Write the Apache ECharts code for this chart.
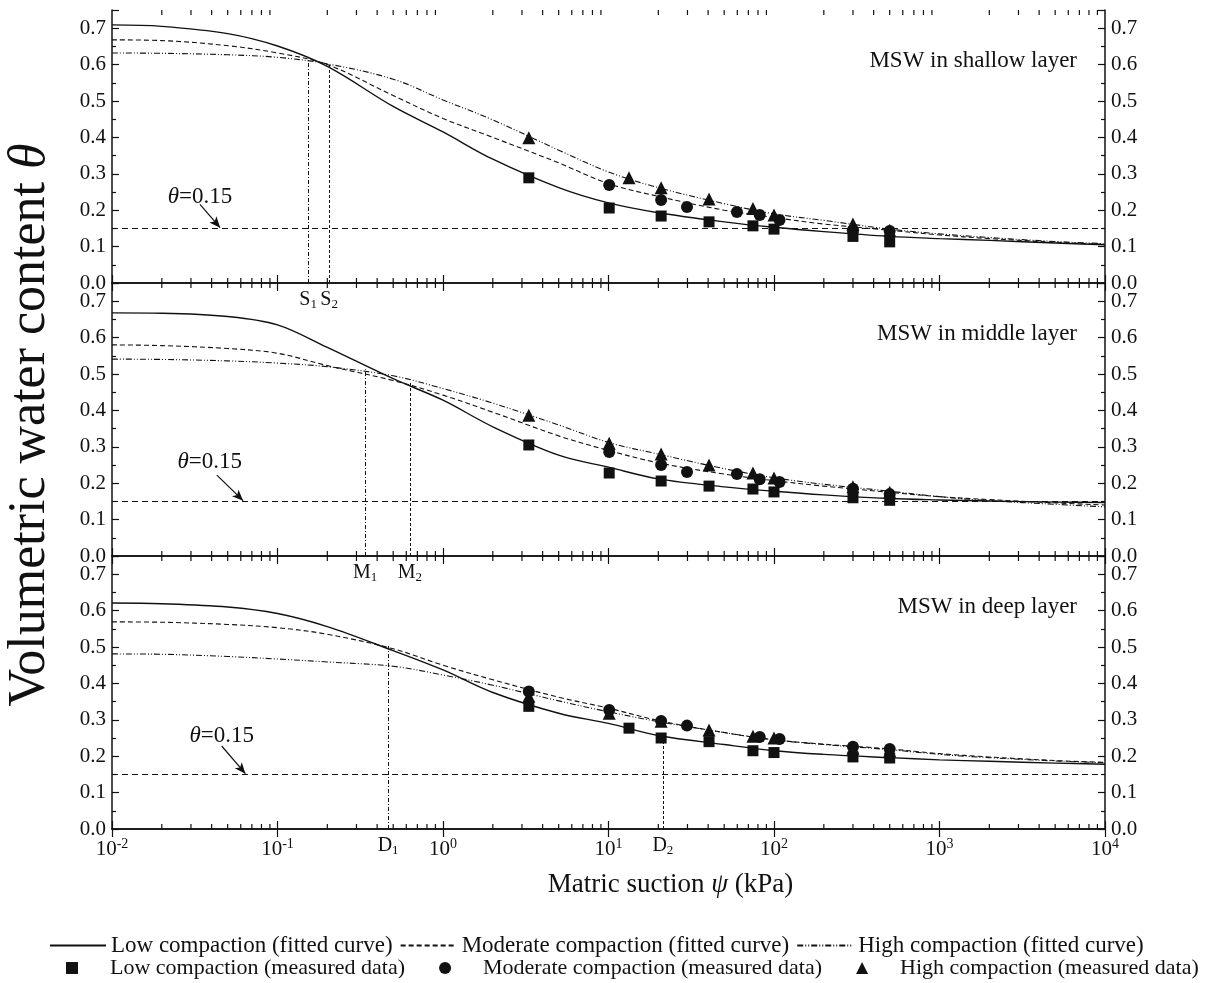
<!DOCTYPE html>
<html>
<head>
<meta charset="UTF-8">
<title>Soil water characteristic curves of MSW</title>
<script src="https://cdn.jsdelivr.net/npm/echarts@6/dist/echarts.min.js"></script>
<style>
  html, body { margin: 0; padding: 0; background: #fff; }
  #main { width: 1211px; height: 983px; }
</style>
</head>
<body>
<div id="main"></div>
<script>
// matric suction (kPa) where the fitted curves were read
var xFit = [0.01, 0.02, 0.05, 0.1, 0.2, 0.5, 1, 2, 5, 10, 20, 50, 100, 200, 500, 1000, 2000, 5000, 10000];

// fitted curves, one array per layer and compaction
var shallowLowFit  = [0.709, 0.705, 0.685, 0.651, 0.595, 0.485, 0.415, 0.340, 0.262, 0.220, 0.193, 0.168, 0.153, 0.141, 0.128, 0.122, 0.117, 0.110, 0.105];
var shallowModFit  = [0.668, 0.666, 0.652, 0.632, 0.600, 0.515, 0.452, 0.400, 0.330, 0.273, 0.238, 0.200, 0.180, 0.162, 0.145, 0.132, 0.122, 0.112, 0.106];
var shallowHighFit = [0.632, 0.631, 0.627, 0.620, 0.602, 0.560, 0.503, 0.448, 0.365, 0.305, 0.262, 0.218, 0.190, 0.172, 0.148, 0.135, 0.125, 0.114, 0.108];

var middleLowFit   = [0.668, 0.667, 0.658, 0.635, 0.573, 0.487, 0.428, 0.355, 0.277, 0.244, 0.212, 0.190, 0.178, 0.168, 0.158, 0.154, 0.151, 0.148, 0.147];
var middleModFit   = [0.580, 0.578, 0.570, 0.557, 0.523, 0.482, 0.442, 0.395, 0.330, 0.290, 0.256, 0.225, 0.207, 0.192, 0.175, 0.163, 0.155, 0.146, 0.140];
var middleHighFit  = [0.541, 0.540, 0.536, 0.530, 0.520, 0.495, 0.460, 0.420, 0.360, 0.312, 0.280, 0.240, 0.215, 0.197, 0.178, 0.163, 0.152, 0.142, 0.135];

var deepLowFit     = [0.621, 0.619, 0.610, 0.592, 0.556, 0.490, 0.437, 0.375, 0.318, 0.290, 0.257, 0.232, 0.215, 0.205, 0.196, 0.190, 0.186, 0.181, 0.178];
var deepModFit     = [0.569, 0.568, 0.562, 0.553, 0.535, 0.495, 0.450, 0.410, 0.362, 0.332, 0.298, 0.265, 0.245, 0.233, 0.220, 0.207, 0.198, 0.188, 0.183];
var deepHighFit    = [0.481, 0.480, 0.474, 0.467, 0.459, 0.447, 0.423, 0.395, 0.352, 0.322, 0.295, 0.265, 0.245, 0.232, 0.218, 0.205, 0.196, 0.187, 0.182];

// measured data
var shallowLowX  = [3.3, 10.1, 20.8, 40.5, 74.6, 100, 300, 500];
var shallowLowY  = [0.289, 0.206, 0.184, 0.168, 0.157, 0.148, 0.128, 0.113];
var shallowModX  = [10.1, 20.8, 29.8, 59.7, 82, 108, 300, 500];
var shallowModY  = [0.269, 0.228, 0.209, 0.195, 0.187, 0.173, 0.145, 0.143];
var shallowHighX = [3.3, 13.3, 20.8, 40.5, 74.6, 100, 300, 500];
var shallowHighY = [0.399, 0.289, 0.262, 0.231, 0.205, 0.187, 0.162, 0.145];

var middleLowX  = [3.3, 10.1, 20.8, 40.5, 74.6, 100, 300, 500];
var middleLowY  = [0.305, 0.228, 0.206, 0.192, 0.184, 0.176, 0.160, 0.153];
var middleModX  = [10.1, 20.8, 29.8, 59.7, 82, 108, 300, 500];
var middleModY  = [0.286, 0.250, 0.231, 0.225, 0.211, 0.203, 0.185, 0.170];
var middleHighX = [3.3, 10.1, 20.8, 40.5, 74.6, 100, 300, 500];
var middleHighY = [0.387, 0.310, 0.280, 0.250, 0.228, 0.214, 0.190, 0.175];

var deepLowX  = [3.3, 13.3, 20.8, 40.5, 74.6, 100, 300, 500];
var deepLowY  = [0.337, 0.277, 0.250, 0.240, 0.215, 0.210, 0.198, 0.195];
var deepModX  = [3.3, 10.1, 20.8, 29.8, 82, 108, 300, 500];
var deepModY  = [0.378, 0.327, 0.297, 0.284, 0.253, 0.247, 0.226, 0.220];
var deepHighX = [3.3, 10.1, 20.8, 40.5, 74.6, 100, 300, 500];
var deepHighY = [0.365, 0.318, 0.296, 0.272, 0.255, 0.250, 0.222, 0.215];

// marked suction points (x) and the curve value they reach (y)
var refNames = [['S{s|1}', 'S{s|2}'], ['M{s|1}', 'M{s|2}'], ['D{s|1}', 'D{s|2}']];
var refX = [[0.153, 0.205], [0.338, 0.63], [0.466, 21.3]];
var refY = [[0.615, 0.597], [0.513, 0.478], [0.503, 0.250]];
var thetaLimit = 0.15;
// "θ=0.15" note: text anchor, arrow tail and arrow tip
var noteText = [[0.034, 0.236], [0.039, 0.257], [0.046, 0.255]];
var noteTail = [[0.034, 0.216], [0.043, 0.222], [0.046, 0.228]];
var noteTip  = [[0.045, 0.152], [0.062, 0.152], [0.064, 0.152]];
var panelTitles = ['MSW in shallow layer', 'MSW in middle layer', 'MSW in deep layer'];

var SERIF = 'Liberation Serif';
var INK = '#111';
var names = ['Low compaction (fitted curve)', 'Moderate compaction (fitted curve)', 'High compaction (fitted curve)',
             'Low compaction (measured data)', 'Moderate compaction (measured data)', 'High compaction (measured data)'];
var dashes = ['solid', [5, 3], [6, 2, 1, 2, 1, 2]];
var symbols = ['rect', 'circle', 'triangle'];
var symbolSizes = [11, 12, 13];

var fits = [[shallowLowFit, shallowModFit, shallowHighFit], [middleLowFit, middleModFit, middleHighFit], [deepLowFit, deepModFit, deepHighFit]];
var meas = [
  [[shallowLowX, shallowLowY], [shallowModX, shallowModY], [shallowHighX, shallowHighY]],
  [[middleLowX, middleLowY], [middleModX, middleModY], [middleHighX, middleHighY]],
  [[deepLowX, deepLowY], [deepModX, deepModY], [deepHighX, deepHighY]]
];

// minor ticks of the log axis: 2..9 in each decade
var minorX = [];
for (var k = -2; k < 4; k++) {
  for (var m = 2; m < 10; m++) minorX.push(m * Math.pow(10, k));
}

function zip(xs, ys) { return xs.map(function (x, i) { return [x, ys[i]]; }); }

var gridTops = [10, 283, 556];
var grids = [], xAxes = [], yAxes = [], series = [], titles = [];
var axisLine = { lineStyle: { color: INK, width: 1.5 } };

gridTops.forEach(function (top, g) {
  grids.push({ left: 112, right: 106, top: top, height: 273 });
  var xBase = {
    type: 'log', logBase: 10, min: 0.01, max: 10000, splitNumber: 6, gridIndex: g,
    axisLine: axisLine, splitLine: { show: false },
    axisTick: { inside: true, length: 8, lineStyle: { color: INK, width: 1.2 } }
  };
  xAxes.push(Object.assign({}, xBase, {
    position: 'bottom',
    axisLabel: {
      show: g === 2, margin: 8, color: INK,
      formatter: function (v) { return '{b|10}{s|' + Math.round(Math.log10(v)) + '}'; },
      rich: {
        b: { fontFamily: SERIF, fontSize: 21, color: INK, lineHeight: 24 },
        s: { fontFamily: SERIF, fontSize: 14, color: INK, verticalAlign: 'top', lineHeight: 14, padding: [0, 0, 12, 0] }
      }
    },
    name: g === 2 ? 'Matric suction {i|ψ} (kPa)' : '',
    nameLocation: 'middle', nameGap: 42,
    nameTextStyle: {
      fontFamily: SERIF, fontSize: 27, color: INK, padding: [0, 0, 0, 124],
      rich: { i: { fontFamily: SERIF, fontSize: 27, fontStyle: 'italic', color: INK } }
    }
  }));
  xAxes.push(Object.assign({}, xBase, { position: 'top', axisLabel: { show: false } }));

  var yBase = {
    type: 'value', min: 0, max: 0.75, interval: 0.1, gridIndex: g,
    axisLine: axisLine, splitLine: { show: false },
    axisTick: { inside: true, length: 7, lineStyle: { color: INK, width: 1.2 } },
    minorTick: { show: true, splitNumber: 2, length: 4, lineStyle: { color: INK, width: 1.2 } },
    axisLabel: {
      fontFamily: SERIF, fontSize: 21, color: INK, margin: 6,
      formatter: function (v) { return v > 0.71 ? '' : v.toFixed(1); }
    }
  };
  yAxes.push(Object.assign({}, yBase, { position: 'left' }));
  yAxes.push(Object.assign({}, yBase, { position: 'right' }));

  titles.push({
    text: panelTitles[g], right: 129, top: top + 34,
    textStyle: { fontFamily: SERIF, fontSize: 23, fontWeight: 'normal', color: INK }
  });

  for (var c = 0; c < 3; c++) {
    series.push({
      name: names[c], type: 'line', xAxisIndex: 2 * g, yAxisIndex: 2 * g,
      data: zip(xFit, fits[g][c]), smooth: 0.35, symbol: 'none',
      itemStyle: { color: INK },
      lineStyle: { color: INK, width: c === 0 ? 1.4 : 1.1, type: dashes[c] }, z: 3
    });
  }
  for (var c2 = 0; c2 < 3; c2++) {
    series.push({
      name: names[3 + c2], type: 'scatter', xAxisIndex: 2 * g, yAxisIndex: 2 * g,
      data: zip(meas[g][c2][0], meas[g][c2][1]),
      symbol: symbols[c2], symbolSize: symbolSizes[c2],
      itemStyle: { color: INK, opacity: 1 }, z: 4
    });
  }

  // reference lines, θ=0.15 note and arrow
  var refLines = [
    [{ coord: [0.01, thetaLimit], lineStyle: { type: [6, 4], width: 1.1 } }, { coord: [10000, thetaLimit] }],
    [{ coord: [noteTail[g][0], noteTail[g][1]], symbol: 'none', lineStyle: { type: 'solid', width: 1.2 } },
     { coord: [noteTip[g][0], noteTip[g][1]], symbol: 'arrow', symbolSize: [7, 11] }]
  ];
  for (var r = 0; r < 2; r++) {
    refLines.push([
      { coord: [refX[g][r], 0], name: refNames[g][r], lineStyle: { type: r === 0 ? [4, 2, 1, 2] : [3, 2], width: 1 },
        label: { show: true, position: 'start', distance: 6 } },
      { coord: [refX[g][r], refY[g][r]] }
    ]);
  }
  series.push({
    name: 'ref' + g, type: 'line', xAxisIndex: 2 * g, yAxisIndex: 2 * g, data: [],
    markLine: {
      silent: true, symbol: 'none', animation: false,
      lineStyle: { color: INK },
      label: {
        show: false, formatter: '{b}', fontFamily: SERIF, fontSize: 20, color: INK,
        rich: { s: { fontFamily: SERIF, fontSize: 13, color: INK, verticalAlign: 'bottom', padding: [9, 0, 0, 0] } }
      },
      emphasis: { disabled: true },
      data: refLines
    },
    markPoint: {
      silent: true, symbol: 'circle', symbolSize: 1, itemStyle: { color: 'rgba(0,0,0,0)' },
      label: {
        show: true, position: 'inside', formatter: '{i|θ}=0.15',
        fontFamily: SERIF, fontSize: 23, color: INK,
        rich: { i: { fontFamily: SERIF, fontSize: 23, fontStyle: 'italic', color: INK } }
      },
      data: [{ coord: noteText[g] }]
    }
  });

  // minor ticks along the top and bottom edges
  series.push({
    name: 'ticks' + g, type: 'custom', xAxisIndex: 2 * g, yAxisIndex: 2 * g, silent: true, clip: false, z: 5,
    data: minorX,
    renderItem: function (params, api) {
      var x = api.value(0);
      var b = api.coord([x, 0]), t = api.coord([x, 0.75]);
      var st = { stroke: INK, lineWidth: 1.2 };
      return {
        type: 'group', children: [
          { type: 'line', shape: { x1: b[0], y1: b[1], x2: b[0], y2: b[1] - 5 }, style: st },
          { type: 'line', shape: { x1: t[0], y1: t[1], x2: t[0], y2: t[1] + 5 }, style: st }
        ]
      };
    },
    encode: { x: 0 }
  });
});

var chart = echarts.init(document.getElementById('main'));
var option = {
  animation: false,
  backgroundColor: '#fff',
  textStyle: { fontFamily: SERIF },
  title: titles,
  grid: grids,
  xAxis: xAxes,
  yAxis: yAxes,
  legend: [
    {
      data: names.slice(0, 3), left: 44, top: 929, itemGap: 7, itemWidth: 56, itemHeight: 14,
      itemStyle: { opacity: 0 }, width: 1160,
      textStyle: { fontFamily: SERIF, fontSize: 23, color: INK }, selectedMode: false
    },
    {
      data: names.slice(3), left: 66, top: 957, itemGap: 34, itemWidth: 12, itemHeight: 12,
      padding: 0, width: 1180,
      textStyle: { fontFamily: SERIF, fontSize: 22, color: INK, padding: [0, 0, 0, 27] }, selectedMode: false
    }
  ],
  graphic: [{
    type: 'text', x: 30, y: 425, rotation: Math.PI / 2,
    style: {
      text: 'Volumetric water content {i|θ}', align: 'center', verticalAlign: 'middle',
      fontFamily: SERIF, fontSize: 52, fill: INK,
      rich: { i: { fontFamily: SERIF, fontSize: 52, fontStyle: 'italic', fill: INK } }
    }
  }],
  series: series
};
chart.setOption(option);
</script>
</body>
</html>
